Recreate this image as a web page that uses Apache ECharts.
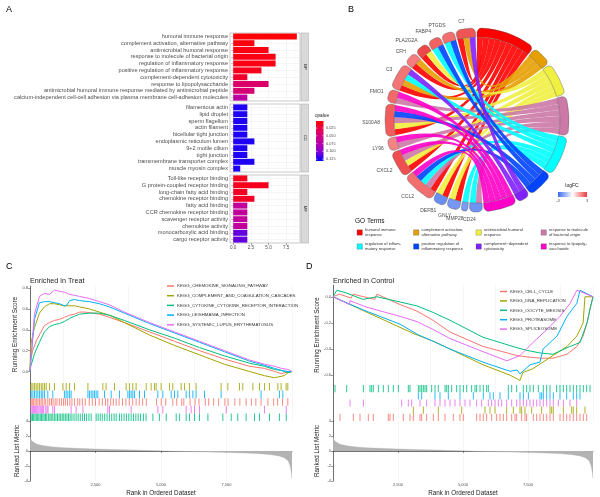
<!DOCTYPE html>
<html><head><meta charset="utf-8">
<script src="https://cdn.jsdelivr.net/npm/echarts@6/dist/echarts.min.js"></script>
<style>html,body{margin:0;padding:0;background:#fff}#c{width:600px;height:497px}</style>
</head><body><div id="c"></div>
<script>
const FONT = 'Liberation Sans, Arial, sans-serif';

// ---------- Panel A : GO enrichment bars ----------
const bpTerms = ['humoral immune response','complement activation, alternative pathway','antimicrobial humoral response','response to molecule of bacterial origin','regulation of inflammatory response','positive regulation of inflammatory response','complement-dependent cytotoxicity','response to lipopolysaccharide','antimicrobial humoral immune response mediated by antimicrobial peptide','calcium-independent cell-cell adhesion via plasma membrane cell-adhesion molecules'];
const bpCounts = [9,3,5,6,6,4,2,5,3,2];
const bpQ = [0.004,0.006,0.008,0.009,0.009,0.012,0.018,0.040,0.045,0.070];
const ccTerms = ['filamentous actin','lipid droplet','sperm flagellum','actin filament','bicellular tight junction','endoplasmic reticulum lumen','9+2 motile cilium','tight junction','transmembrane transporter complex','muscle myosin complex'];
const ccCounts = [2,2,2,2,2,3,2,2,3,1];
const ccQ = [0.124,0.124,0.124,0.124,0.124,0.124,0.124,0.124,0.124,0.124];
const mfTerms = ['Toll-like receptor binding','G protein-coupled receptor binding','long-chain fatty acid binding','chemokine receptor binding','fatty acid binding','CCR chemokine receptor binding','scavenger receptor activity','chemokine activity','monocarboxylic acid binding','cargo receptor activity'];
const mfCounts = [2,5,2,3,2,2,2,2,2,2];
const mfQ = [0.012,0.012,0.015,0.015,0.066,0.066,0.066,0.066,0.108,0.108];
const facetNames = ['BP','CC','MF'];
const countTicks = [0,2.5,5,7.5];
const qTicks = [0.025,0.050,0.075,0.100,0.125];
const qRange = [0.0024,0.131];
const qColors = ['#ff0000','#e2005f','#c0009c','#8c00d0','#0000ff'];

// ---------- Panel B : GO chord ----------
const genes = ['C7','PTGDS','FABP4','PLA2G2A','CFH','C3','FMO1','S100A8','LY96','CXCL2','CCL2','DEFB1','GNLY','MMP28','CD24'];
const geneLogFC = [2.6,2.2,2.4,2.8,2.0,2.1,2.3,2.5,1.9,2.7,2.2,-2.3,-2.1,-2.0,-2.2];
const goTerms = ['humoral immune response','complement activation, alternative pathway','antimicrobial humoral response','response to molecule of bacterial origin','regulation of inflammatory response','positive regulation of inflammatory response','complement\u2212dependent cytotoxicity','response to lipopolysaccharide'];
const goLegendText = ['humoral immune\nresponse','complement activation,\nalternative pathway','antimicrobial humoral\nresponse','response to molecule\nof bacterial origin','regulation of inflam-\nmatory response','positive regulation of\ninflammatory response','complement\u2212dependent\ncytotoxicity','response to lipopoly-\nsaccharide'];
const goColors = ['#ff0000','#e69f00','#f0f040','#cc79a7','#00ffff','#0044ff','#8020ff','#ff00c8'];
const goMembers = [
  ['C7','PLA2G2A','CFH','C3','S100A8','CXCL2','CCL2','DEFB1','GNLY'],
  ['C7','CFH','C3'],
  ['PLA2G2A','S100A8','CXCL2','DEFB1','GNLY'],
  ['FMO1','S100A8','LY96','CXCL2','CCL2','CD24'],
  ['PTGDS','FABP4','C3','CCL2','MMP28','CD24'],
  ['PTGDS','FABP4','S100A8','CCL2'],
  ['C7','C3'],
  ['FMO1','S100A8','LY96','CXCL2','CCL2']
];
const logFCRange = [-3,3];

// ---------- Panel C : GSEA Enriched in Treat ----------
const setsC = ['KEGG_CHEMOKINE_SIGNALING_PATHWAY','KEGG_COMPLEMENT_AND_COAGULATION_CASCADES','KEGG_CYTOKINE_CYTOKINE_RECEPTOR_INTERACTION','KEGG_LEISHMANIA_INFECTION','KEGG_SYSTEMIC_LUPUS_ERYTHEMATOSUS'];
const colorsC = ['#F8766D','#A3A500','#00BF7D','#00B0F6','#E76BF3'];
const resC_chemokine = [[0,0],[20,0.10],[100,0.20],[250,0.30],[400,0.37],[550,0.44],[745,0.47],[935,0.49],[1125,0.50],[1315,0.52],[1510,0.54],[1700,0.55],[1890,0.57],[2100,0.57],[2400,0.56],[2650,0.55],[3030,0.52],[3600,0.47],[4560,0.38],[5515,0.29],[6470,0.20],[7420,0.12],[8380,0.05],[8950,0.03],[9350,0.00],[9600,-0.02],[9900,0.00],[10000,0]];
const resC_complement = [[0,0],[20,0.25],[170,0.42],[360,0.56],[550,0.62],[745,0.65],[935,0.65],[1125,0.64],[1315,0.63],[1700,0.63],[1890,0.62],[2270,0.60],[2650,0.57],[3030,0.54],[3600,0.47],[4560,0.35],[5515,0.25],[6470,0.16],[7420,0.07],[8380,0.00],[8950,-0.04],[9330,-0.06],[9500,-0.05],[9700,-0.04],[9850,-0.01],[10000,0]];
const resC_cytokine = [[0,0],[30,0.05],[170,0.17],[360,0.28],[550,0.38],[745,0.43],[935,0.45],[1125,0.46],[1315,0.48],[1510,0.51],[1700,0.53],[1890,0.55],[2270,0.56],[2650,0.56],[3030,0.54],[3600,0.49],[4560,0.40],[5515,0.32],[6470,0.23],[7420,0.15],[8380,0.08],[8950,0.05],[9330,0.02],[9600,0.01],[9850,-0.01],[10000,0]];
const resC_leishmania = [[0,0],[30,0.10],[170,0.50],[360,0.66],[550,0.67],[745,0.67],[935,0.66],[1125,0.65],[1315,0.63],[1420,0.64],[1510,0.68],[1700,0.69],[1890,0.68],[2270,0.67],[2650,0.65],[3030,0.62],[3600,0.56],[4560,0.46],[5515,0.37],[6470,0.28],[7420,0.19],[8380,0.10],[8950,0.06],[9330,0.03],[9600,0.01],[9850,0.00],[10000,0]];
const resC_lupus = [[0,0],[30,0.12],[170,0.55],[360,0.72],[550,0.75],[745,0.74],[935,0.78],[1125,0.77],[1315,0.76],[1510,0.74],[1700,0.73],[1890,0.72],[2270,0.70],[2650,0.67],[3030,0.64],[3600,0.57],[4560,0.47],[5515,0.38],[6470,0.29],[7420,0.20],[8380,0.11],[8950,0.07],[9330,0.05],[9600,0.03],[9850,0.02],[10000,0]];
const hitsC_chemokine = [40,85,130,190,240,300,360,420,470,540,600,680,750,820,880,960,1030,1120,1200,1280,1350,1430,1520,1600,1700,1820,1900,2000,2110,2260,2380,2500,2640,2760,2880,2970,3080,3180,3290,3400,3530,3660,3790,3920,4050,4170,4300,4440,4830,5010,5180,5450,5600,5790,5870,6110,6300,6450,6690,6820,7010,7200,7440,7560,7820,8010,8250,8450,8620,8820,9080,9300,9450,9640,9840];
const hitsC_complement = [45,110,170,235,300,365,430,490,555,620,745,935,1255,1380,1510,1700,2210,2780,2905,3225,3670,3800,3925,4050,4435,4625,4750,4815,5005,5325,5450,5770,5895,6085,6340,7295,7550,7995,8120,8505,8760,8950,9140,9460,9585,9775,9840];
const hitsC_cytokine = [45,95,140,190,240,290,340,390,440,490,540,590,640,700,760,810,870,930,990,1050,1110,1170,1230,1290,1350,1410,1470,1530,1600,1680,1760,1840,1920,2000,2080,2160,2250,2335,2525,2600,2680,2760,2850,2940,3030,3120,3210,3290,3415,3500,3590,3680,3770,3860,3950,4040,4130,4220,4330,4430,4690,4940,5200,5580,5710,5960,6090,6280,6470,6790,7360,7680,7930,8250,8570,8760,9140,9520,9780];
const hitsC_leishmania = [45,110,170,235,300,365,430,490,555,680,870,1315,1380,1445,1510,1570,2210,2270,2335,2400,2460,2525,2590,2845,3100,3415,3735,3800,3860,3925,3990,4180,4370,4880,5070,5390,5515,5640,5960,6085,6215,6340,6660,7295,8820,9520,9650];
const hitsC_lupus = [45,90,130,175,215,260,300,345,390,430,480,520,600,650,690,870,935,1570,1760,2020,2970,3035,3860,4880,5070,5960,6150,6280,6470,7490,8950,9780];
const barcodeRowsC = ['KEGG_COMPLEMENT_AND_COAGULATION_CASCADES','KEGG_LEISHMANIA_INFECTION','KEGG_CHEMOKINE_SIGNALING_PATHWAY','KEGG_SYSTEMIC_LUPUS_ERYTHEMATOSUS','KEGG_CYTOKINE_CYTOKINE_RECEPTOR_INTERACTION'];

// ---------- Panel D : GSEA Enriched in Control ----------
const setsD = ['KEGG_CELL_CYCLE','KEGG_DNA_REPLICATION','KEGG_OOCYTE_MEIOSIS','KEGG_PROTEASOME','KEGG_SPLICEOSOME'];
const colorsD = ['#F8766D','#A3A500','#00BF7D','#00B0F6','#E76BF3'];
const resD_cellcycle = [[0,0],[250,0.02],[700,-0.01],[770,0.02],[1600,-0.02],[1690,0.02],[2580,-0.06],[3230,-0.11],[3850,-0.18],[4500,-0.27],[5770,-0.38],[7080,-0.45],[7460,-0.46],[7960,-0.47],[8460,-0.47],[9000,-0.44],[9380,-0.38],[9620,-0.30],[9770,-0.20],[9900,-0.08],[10000,0]];
const resD_dna = [[0,0],[3080,-0.28],[3850,-0.34],[4500,-0.40],[5770,-0.52],[6810,-0.60],[7190,-0.64],[7300,-0.58],[7690,-0.55],[8460,-0.45],[9000,-0.38],[9380,-0.30],[9620,-0.20],[9690,0.00],[10000,0]];
const resD_oocyte = [[0,0],[150,0.05],[500,0.03],[540,0.04],[1150,-0.02],[1690,0.00],[2580,-0.04],[3230,-0.07],[3850,-0.12],[4500,-0.18],[5770,-0.31],[7080,-0.39],[7460,-0.41],[7960,-0.43],[8460,-0.44],[9000,-0.39],[9500,-0.35],[9770,-0.20],[9880,-0.10],[10000,0]];
const resD_proteasome = [[0,0],[1150,-0.10],[2580,-0.21],[3270,-0.29],[3850,-0.34],[4500,-0.40],[5770,-0.50],[6810,-0.57],[7080,-0.56],[7190,-0.59],[7580,-0.52],[7960,-0.50],[8080,-0.40],[8350,-0.35],[8620,-0.30],[9000,-0.15],[9380,-0.05],[9500,0.05],[10000,0]];
const resD_spliceosome = [[0,0],[640,-0.06],[650,-0.03],[1300,-0.08],[2580,-0.15],[3230,-0.19],[3850,-0.25],[4500,-0.32],[5770,-0.42],[6420,-0.47],[6690,-0.49],[7190,-0.45],[7690,-0.35],[8230,-0.25],[8730,-0.15],[9120,-0.05],[9380,0.05],[10000,0]];
const hitsD_cellcycle = [269,782,1038,1359,1551,2128,2192,2320,2705,2961,3090,3346,3410,3602,3859,4051,4308,4628,4884,5013,5525,5654,5782,5910,6102,6295,6423,6551,6679,6872,7000,7064,7256,7384,7448,7705,7833,7961,8089,8218,8346,8474,8730,8859,8987,9115,9243,9371,9500,9628,9756];
const hitsD_dna = [3090,3474,4051,4949,5846,6038,6231,6679,6936,7192,7256,7384,7641,8025,8346,8410,8474,8859,9179,9243,9371,9692];
const hitsD_oocyte = [77,526,1167,1423,1487,1551,1744,1936,2128,2320,2513,2897,2961,3282,3346,3410,3474,3538,3602,3795,3923,4051,4308,4372,4436,4564,4756,4884,5013,5141,5333,5461,5525,5654,5782,5910,5974,6743,6872,7064,7320,7448,7577,7705,7897,8089,8218,8346,8602,8730,8859,8987,9115,9243,9371,9500,9628,9756,9884];
const hitsD_proteasome = [3282,3410,3923,4115,4436,4884,5397,5782,6038,6166,6423,6743,7192,7320,7513,7961,8025,8089,8218,8346,8474,8730,8987,9243,9371,9500];
const hitsD_spliceosome = [654,1167,2641,2897,3025,3346,3602,3923,4115,4308,4500,4692,4884,5077,5269,5525,5718,5974,6102,6231,6359,6487,6679,6872,7064,7192,7320,7448,7577,7705,7833,7961,8089,8218,8346,8474,8667,8859,9115,9371];
const barcodeRowsD = ['KEGG_OOCYTE_MEIOSIS','KEGG_PROTEASOME','KEGG_SPLICEOSOME','KEGG_DNA_REPLICATION','KEGG_CELL_CYCLE'];

// shared ranked list metric
const rankedMetric = [[0,1.9],[30,1.6],[80,1.3],[150,1.1],[250,0.95],[400,0.8],[600,0.68],[900,0.55],[1300,0.45],[1800,0.36],[2500,0.27],[3200,0.2],[4000,0.12],[4600,0.06],[5000,0.02],[5400,-0.02],[6000,-0.07],[6800,-0.13],[7500,-0.2],[8200,-0.28],[8800,-0.38],[9200,-0.5],[9500,-0.65],[9700,-0.9],[9850,-1.3],[9930,-2.0],[9970,-2.8],[10000,-3.7]];
const resTicksC = [0,0.2,0.4,0.6,0.8];
const resTicksD = [-0.6,-0.4,-0.2,0];
const rankTicks = [2500,5000,7500];
const nGenes = 10000;

// ======================================================
const chart = echarts.init(document.getElementById('c'), null, {renderer:'canvas'});
const AX = '#333';
const LBL = '#4d4d4d';

function mix(c1, c2, t){
  const a = parseInt(c1.slice(1),16), b = parseInt(c2.slice(1),16);
  const h = x => ('0'+Math.round(x).toString(16)).slice(-2);
  return '#'+h(((a>>16)&255)*(1-t)+((b>>16)&255)*t)+h(((a>>8)&255)*(1-t)+((b>>8)&255)*t)+h((a&255)*(1-t)+(b&255)*t);
}
function fcColor(v){
  const t = Math.max(-1, Math.min(1, v/logFCRange[1]));
  return t >= 0 ? mix('#ffffff','#ee3b3b',t) : mix('#ffffff','#3b6bee',-t);
}

const grids = [], xAxes = [], yAxes = [], series = [];
// Panel A grids
const aTops = [33,104,175];
const facetData = [[bpTerms,bpCounts,bpQ],[ccTerms,ccCounts,ccQ],[mfTerms,mfCounts,mfQ]];
const minorTicks = countTicks.map(v=>v+1.25);
facetData.forEach((fd,i)=>{
  grids.push({left:230, top:aTops[i], width:70, height:68, show:true, borderColor:'#b3b3b3', borderWidth:0.7, backgroundColor:'#fff'});
  xAxes.push({type:'value', gridIndex:i, min:-0.45, max:9.45, splitLine:{show:false},
    axisLine:{show:false},
    axisTick:{show:i===2, length:2, lineStyle:{color:LBL,width:0.5}, customValues:countTicks},
    axisLabel:{show:i===2, fontSize:4.6, color:LBL, margin:2, customValues:countTicks, formatter:v=>v.toFixed(1)}});
  yAxes.push({type:'category', gridIndex:i, data:fd[0], inverse:true,
    axisLine:{show:false}, axisTick:{show:true, interval:0, length:2, alignWithLabel:true, lineStyle:{color:LBL,width:0.5}},
    axisLabel:{interval:0, fontSize:5.6, color:LBL, margin:2}, splitLine:{show:false}});
  series.push({type:'bar', name:facetNames[i], xAxisIndex:i, yAxisIndex:i, barCategoryGap:'12%',
    encode:{x:0,y:1},
    data: fd[0].map((t,k)=>[fd[1][k], t, fd[2][k]]),
    markLine:{silent:true, symbol:'none', z:1, animation:false, label:{show:false},
      lineStyle:{color:'#ebebeb', width:0.5, type:'solid'},
      data: countTicks.map(v=>({xAxis:v})).concat(minorTicks.map(v=>({xAxis:v, lineStyle:{color:'#f4f4f4',width:0.4,type:'solid'}}))).concat(fd[0].map(t=>({yAxis:t})))}
  });
});

// Panel B chord
const geneDegree = g => goMembers.filter(m=>m.indexOf(g)>=0).length;
const chordNodes = goTerms.map((t,i)=>({name:t, value:goMembers[i].length, itemStyle:{color:goColors[i], borderColor:'#555', borderWidth:0.4}, label:{show:false}}))
  .concat(genes.slice().reverse().map(g=>({name:g, value:geneDegree(g), itemStyle:{color:fcColor(geneLogFC[genes.indexOf(g)]), borderColor:'#555', borderWidth:0.4}})));
const chordLinks = [];
goTerms.forEach((t,i)=>{ goMembers[i].forEach(g=>chordLinks.push({source:t, target:g, value:1})); });
series.push({type:'chord', center:[477,120], radius:[83,92], startAngle:90, clockwise:true, padAngle:1,
  lineStyle:{color:'source', opacity:0.9},
  label:{show:true, position:'outside', fontSize:5, color:LBL, fontFamily:FONT},
  emphasis:{disabled:true},
  data:chordNodes, links:chordLinks});

// GSEA panels
function gseaPanel(base, left, width, resTop, resH, resMin, resMax, resTicks, bcTop, bcH, rows, sets, colors, resArr, hitsArr){
  const g0 = grids.length;
  grids.push({left:left, top:resTop, width:width, height:resH});
  grids.push({left:left, top:bcTop, width:width, height:bcH});
  grids.push({left:left, top:421, width:width, height:60});
  const vgrid = {show:true, lineStyle:{color:'#ececec', width:0.5}};
  xAxes.push({type:'value', gridIndex:g0, min:0, max:nGenes, interval:1250, splitLine:vgrid, axisLine:{show:false}, axisTick:{show:false}, axisLabel:{show:false}});
  xAxes.push({type:'value', gridIndex:g0+1, min:0, max:nGenes, interval:1250, splitLine:vgrid, axisLine:{show:false}, axisTick:{show:false}, axisLabel:{show:false}});
  xAxes.push({type:'value', gridIndex:g0+2, min:0, max:nGenes, interval:1250, splitLine:vgrid,
    axisLine:{show:true, lineStyle:{color:AX,width:0.7}},
    axisTick:{show:true, length:2, customValues:rankTicks, lineStyle:{color:AX,width:0.5}},
    axisLabel:{fontSize:4, color:LBL, margin:2, customValues:rankTicks},
    name:'Rank in Ordered Dataset', nameLocation:'middle', nameGap:9, nameTextStyle:{fontSize:6.3, color:'#222'}});
  yAxes.push({type:'value', gridIndex:g0, min:resMin, max:resMax, splitLine:{show:false},
    axisLine:{show:true, lineStyle:{color:AX,width:0.7}},
    axisTick:{show:true, length:2, customValues:resTicks, lineStyle:{color:AX,width:0.5}},
    axisLabel:{fontSize:4, color:LBL, margin:2, customValues:resTicks, formatter:v=>v.toFixed(1)},
    name:'Running Enrichment Score', nameLocation:'middle', nameGap:left>300?13:10, nameRotate:90, nameTextStyle:{fontSize:6.3, color:'#222'}});
  yAxes.push({type:'category', gridIndex:g0+1, data:rows, inverse:true,
    axisLine:{show:true, lineStyle:{color:AX,width:0.7}}, axisTick:{show:false}, axisLabel:{show:false}, splitLine:{show:false}});
  yAxes.push({type:'value', gridIndex:g0+2, min:-4, max:4, interval:2, splitLine:{show:false},
    axisLine:{show:true, lineStyle:{color:AX,width:0.7}},
    axisTick:{show:true, length:2, lineStyle:{color:AX,width:0.5}},
    axisLabel:{fontSize:4, color:LBL, margin:2},
    name:'Ranked List Metric', nameLocation:'middle', nameGap:left>300?13:10, nameRotate:90, nameTextStyle:{fontSize:6.3, color:'#222'}});
  sets.forEach((s,i)=>{
    series.push({type:'line', name:s, xAxisIndex:g0, yAxisIndex:g0, data:resArr[i], showSymbol:false, symbol:'none',
      lineStyle:{color:colors[i], width:1}, itemStyle:{color:colors[i]}, animation:false, z:3});
  });
  sets.forEach((s,i)=>{
    series.push({type:'scatter', name:s, xAxisIndex:g0+1, yAxisIndex:g0+1, symbol:'rect', symbolSize:[1,bcH/5],
      data: hitsArr[i].map(h=>[h, s]), itemStyle:{color:colors[i], opacity:0.85}, animation:false});
  });
  series.push({type:'line', name:'ranked'+base, xAxisIndex:g0+2, yAxisIndex:g0+2, data:rankedMetric, showSymbol:false, symbol:'none',
    lineStyle:{width:0.3,color:'#b0b0b0'}, areaStyle:{color:'#b3b3b3', opacity:1, origin:0}, animation:false});
  return g0;
}
gseaPanel('C', 30, 262, 286, 97, -0.11, 0.82, resTicksC, 383, 38, barcodeRowsC, setsC, colorsC,
  [resC_chemokine,resC_complement,resC_cytokine,resC_leishmania,resC_lupus],
  [hitsC_chemokine,hitsC_complement,hitsC_cytokine,hitsC_leishmania,hitsC_lupus]);
gseaPanel('D', 333, 260, 285, 100, -0.675, 0.09, resTicksD, 385, 36, barcodeRowsD, setsD, colorsD,
  [resD_cellcycle,resD_dna,resD_oocyte,resD_proteasome,resD_spliceosome],
  [hitsD_cellcycle,hitsD_dna,hitsD_oocyte,hitsD_proteasome,hitsD_spliceosome]);

// graphic: panel letters, facet strips, qvalue colorbar, GO legend, logFC legend, titles
const graphic = [];
[['A',6,5],['B',348,5],['C',6,262],['D',306,262]].forEach(p=>graphic.push({type:'text', left:p[1], top:p[2], style:{text:p[0], fontSize:9, fill:'#000', fontFamily:FONT}}));
graphic.push({type:'text', left:30, top:278, style:{text:'Enriched in Treat', fontSize:7.2, fill:'#222', fontFamily:FONT}});
graphic.push({type:'text', left:333, top:278, style:{text:'Enriched in Control', fontSize:7.2, fill:'#222', fontFamily:FONT}});
facetNames.forEach((f,i)=>{
  graphic.push({type:'rect', shape:{x:301, y:aTops[i], width:7.5, height:68}, style:{fill:'#d9d9d9', stroke:'#b3b3b3', lineWidth:0.6}});
  graphic.push({type:'text', x:304.75, y:aTops[i]+34, rotation:-Math.PI/2, style:{text:f, fontSize:4, fill:'#1a1a1a', align:'center', verticalAlign:'middle', fontFamily:FONT}});
});
// qvalue colorbar
const cbTop = 121, cbH = 40;
graphic.push({type:'text', left:315, top:113, style:{text:'qvalue', fontSize:4.8, fill:'#222', fontFamily:FONT}});
graphic.push({type:'rect', shape:{x:316, y:cbTop, width:7.5, height:cbH}, style:{fill:new echarts.graphic.LinearGradient(0,0,0,1, qColors.map((c,i)=>({offset:i/(qColors.length-1), color:c})))}});
qTicks.forEach(q=>{
  const y = cbTop + (q-qRange[0])/(qRange[1]-qRange[0])*cbH;
  graphic.push({type:'line', shape:{x1:316,y1:y,x2:317.5,y2:y}, style:{stroke:'#fff', lineWidth:0.5}});
  graphic.push({type:'line', shape:{x1:322,y1:y,x2:323.5,y2:y}, style:{stroke:'#fff', lineWidth:0.5}});
  graphic.push({type:'text', x:326, y:y, style:{text:q.toFixed(3), fontSize:3.8, fill:LBL, verticalAlign:'middle', fontFamily:FONT}});
});
// GO Terms legend
graphic.push({type:'text', left:355, top:218, style:{text:'GO Terms', fontSize:6.5, fill:'#111', fontFamily:FONT}});
const legX = [357,413.5,476,541], legY = [232.5,246.5];
goTerms.forEach((t,i)=>{
  const cx = legX[i%4], cy = legY[Math.floor(i/4)];
  graphic.push({type:'rect', shape:{x:cx, y:cy-2.7, width:5.4, height:5.4}, style:{fill:goColors[i], stroke:'#555', lineWidth:0.3}});
  graphic.push({type:'text', x:cx+8, y:cy, style:{text:goLegendText[i], fontSize:4.1, lineHeight:5.2, fill:'#333', verticalAlign:'middle', fontFamily:FONT}});
});
// logFC legend
graphic.push({type:'text', x:572, y:186, style:{text:'logFC', fontSize:5, fill:'#222', align:'center', verticalAlign:'middle', fontFamily:FONT}});
graphic.push({type:'rect', shape:{x:558, y:192, width:29, height:5}, style:{fill:new echarts.graphic.LinearGradient(0,0,1,0,[{offset:0,color:fcColor(logFCRange[0])},{offset:0.5,color:'#ffffff'},{offset:1,color:fcColor(logFCRange[1])}])}});
graphic.push({type:'text', x:558, y:201, style:{text:String(logFCRange[0]), fontSize:4, fill:LBL, align:'center', verticalAlign:'middle', fontFamily:FONT}});
graphic.push({type:'text', x:587, y:201, style:{text:String(logFCRange[1]), fontSize:4, fill:LBL, align:'center', verticalAlign:'middle', fontFamily:FONT}});

const option = {
  animation:false,
  textStyle:{fontFamily:FONT},
  grid:grids, xAxis:xAxes, yAxis:yAxes, series:series,
  visualMap:[{type:'continuous', show:false, min:qRange[0], max:qRange[1], dimension:2, seriesIndex:[0,1,2], inRange:{color:qColors}}],
  legend:[
    {data:setsC, left:162, top:278, orient:'vertical', icon:'rect', itemWidth:7, itemHeight:1.5, itemGap:3.7, selectedMode:false,
     textStyle:{fontSize:4.4, color:'#333', lineHeight:6, padding:[0,0,0,-2]}},
    {data:setsD, left:495, top:283.5, orient:'vertical', icon:'rect', itemWidth:7, itemHeight:1.5, itemGap:3.4, selectedMode:false,
     textStyle:{fontSize:4.4, color:'#333', lineHeight:6, padding:[0,0,0,-2]}}
  ],
  graphic:graphic
};
chart.setOption(option);
</script></body></html>
